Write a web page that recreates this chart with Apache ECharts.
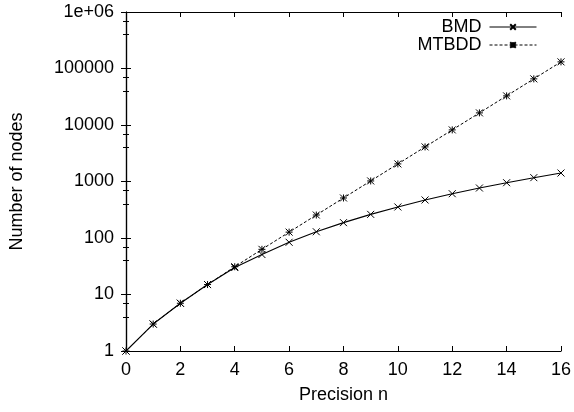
<!DOCTYPE html>
<html><head><meta charset="utf-8">
<script src="https://cdn.jsdelivr.net/npm/echarts@6/dist/echarts.min.js"></script>
<style>html,body{margin:0;padding:0;background:#fff}#c{width:574px;height:412px}</style>
</head><body><div id="c"></div>
<script>
const precision = [0,1,2,3,4,5,6,7,8,9,10,11,12,13,14,15,16];
const bmd = [1,3,7,15,30,51,84,129,187,262,354,471,608,767,952,1169,1413];
const mtbdd = [1,3,7,15,31,63,127,255,511,1023,2047,4095,8191,16383,32767,65535,131071];
const xTicks = [0,2,4,6,8,10,12,14,16];
const yTickLabels = {1:'1',10:'10',100:'100',1000:'1000',10000:'10000',100000:'100000',1000000:'1e+06'};

const font = 'Liberation Sans, Arial, Helvetica, sans-serif';
const fs = 18;
const chart = echarts.init(document.getElementById('c'), null, {renderer:'canvas'});
const crossSym = 'path://M0,0L10,10M10,0L0,10';
const starSym = 'path://M0,0L10,10M10,0L0,10M5,0L5,10M0,5L10,5';
const axisCommon = {
  axisLine:{show:true,lineStyle:{color:'#000',width:1.2}},
  splitLine:{show:false}
};
chart.setOption({
  animation:false,
  textStyle:{fontFamily:font},
  grid:{left:123,right:13,top:12,bottom:61,containLabel:false},
  legend:{
    orient:'vertical', right:32, top:13, align:'right', itemGap:0,
    itemWidth:47, itemHeight:7,
    lineStyle:{width:1},
    textStyle:{fontFamily:font,fontSize:fs,color:'#000',padding:[0,3,0,0]},
    data:[{name:'BMD',lineStyle:{width:1,type:'solid'}},{name:'MTBDD',lineStyle:{width:1,type:[3,2]}}]
  },
  xAxis:[
    Object.assign({type:'value',min:0,max:16,interval:2,position:'bottom',
      name:'Precision n',nameLocation:'middle',nameGap:35,
      nameTextStyle:{fontFamily:font,fontSize:fs,color:'#000'},
      axisTick:{show:true,inside:true,length:5,lineStyle:{color:'#000'}},
      axisLabel:{fontFamily:font,fontSize:fs,color:'#000',margin:10,
        formatter:v=>xTicks.includes(v)?String(v):''}}, axisCommon),
    Object.assign({type:'value',min:0,max:16,interval:2,position:'top',
      axisTick:{show:true,inside:true,length:5,lineStyle:{color:'#000'}},
      axisLabel:{show:false}}, axisCommon)
  ],
  yAxis:[
    Object.assign({type:'log',logBase:10,min:1,max:1000000,position:'left',
      name:'Number of nodes',nameLocation:'middle',nameGap:100,nameRotate:90,
      nameTextStyle:{fontFamily:font,fontSize:fs,color:'#000'},
      axisTick:{show:true,inside:true,length:5,lineStyle:{color:'#000'}},
      minorTick:{show:true,splitNumber:3,length:3,lineStyle:{color:'#000'}},
      axisLabel:{fontFamily:font,fontSize:fs,color:'#000',margin:12,
        formatter:v=>yTickLabels[Math.round(v)]||String(v)}}, axisCommon),
    Object.assign({type:'log',logBase:10,min:1,max:1000000,position:'right',
      axisTick:{show:true,inside:true,length:5,lineStyle:{color:'#000'}},
      minorTick:{show:true,splitNumber:3,length:3,lineStyle:{color:'#000'}},
      axisLabel:{show:false}}, axisCommon)
  ],
  series:[
    {name:'BMD',type:'line',xAxisIndex:0,yAxisIndex:0,
      data:precision.map((n,i)=>[n,bmd[i]]),
      symbol:crossSym,symbolSize:7,showAllSymbol:true,
      lineStyle:{color:'#000',width:1.1,type:'solid'},
      itemStyle:{color:'#000',borderColor:'#000',borderWidth:1}},
    {name:'MTBDD',type:'line',xAxisIndex:0,yAxisIndex:0,
      data:precision.map((n,i)=>[n,mtbdd[i]]),
      symbol:starSym,symbolSize:7,showAllSymbol:true,
      lineStyle:{color:'#000',width:1,type:[3,2]},
      itemStyle:{color:'#000',borderColor:'#000',borderWidth:1}}
  ]
});
</script></body></html>
